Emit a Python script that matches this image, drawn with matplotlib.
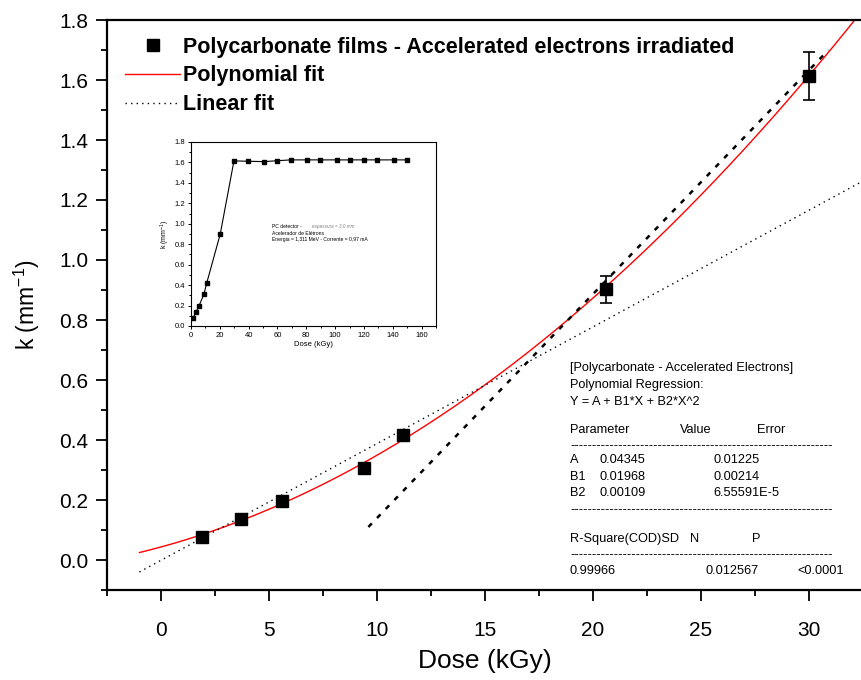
import numpy as np
import matplotlib
matplotlib.use("Agg")
import matplotlib.pyplot as plt
from matplotlib.ticker import MultipleLocator, FormatStrFormatter
from matplotlib.lines import Line2D

plt.rcParams['font.family'] = ['Liberation Sans', 'DejaVu Sans']
plt.rcParams['mathtext.fontset'] = 'custom'
plt.rcParams['mathtext.rm'] = 'Liberation Sans'
plt.rcParams['mathtext.default'] = 'regular'

# measured data (main plot)
dose = [1.9, 3.7, 5.6, 9.4, 11.2, 20.6, 30.0]
k_val = [0.077, 0.138, 0.197, 0.307, 0.417, 0.903, 1.615]
k_err = [0.0, 0.0, 0.0, 0.0, 0.0, 0.045, 0.08]

# polynomial fit parameters (from the results box)
A, B1, B2 = 0.04345, 0.01968, 0.00109
# linear fit
lin_slope, lin_icpt = 0.0389, -0.001
# black dashed line end points
dash_x = [9.6, 30.9]
dash_y = [0.11, 1.70]

# inset data
in_dose = [1.4, 3.5, 5.5, 9.0, 10.9, 20.3, 29.8, 39.3, 50.6, 60.0, 69.3, 80.4,
           89.8, 101.1, 110.6, 119.8, 129.3, 140.8, 150.1]
in_k = [0.078, 0.137, 0.195, 0.313, 0.42, 0.90, 1.615, 1.612, 1.608, 1.617, 1.625,
        1.625, 1.625, 1.625, 1.625, 1.625, 1.625, 1.625, 1.625]

fig = plt.figure(figsize=(8.61, 6.8), dpi=100)
ax = fig.add_axes([107/861, 90/680, 756/861, 570/680])

xf = np.linspace(-1, 32.5, 300)
l_poly, = ax.plot(xf, A + B1*xf + B2*xf**2, color='red', lw=1.0)
l_lin, = ax.plot(xf, lin_icpt + lin_slope*xf, color='black', lw=1.0, ls=(0, (1, 3)))
ax.plot(dash_x, dash_y, color='black', lw=1.8, ls=(0, (2, 3)))
ax.errorbar(dose, k_val, yerr=k_err, fmt='s', color='black', ms=8, capsize=4,
            elinewidth=1.2, capthick=1.2, zorder=5)
pts = Line2D([], [], ls='none', marker='s', color='black', ms=8)

ax.set_xlim(-2.5, 32.5)
ax.set_ylim(-0.1, 1.8)
ax.xaxis.set_major_locator(MultipleLocator(5))
ax.xaxis.set_minor_locator(MultipleLocator(2.5))
ax.yaxis.set_major_locator(MultipleLocator(0.2))
ax.yaxis.set_minor_locator(MultipleLocator(0.1))
ax.yaxis.set_major_formatter(FormatStrFormatter('%.1f'))
ax.tick_params(which='major', direction='out', length=8, width=1.3, labelsize=15)
ax.tick_params(which='minor', direction='out', length=4.5, width=1.3)
ax.tick_params(axis='x', pad=14)
ax.tick_params(axis='y', pad=5.5)
for s in ax.spines.values():
    s.set_linewidth(1.6)
ax.set_xlabel('Dose (kGy)', fontsize=19, labelpad=7)
ax.set_ylabel('k (mm$^{-1}$)', fontsize=16.5, labelpad=12)

ax.legend([pts, l_poly, l_lin],
          ['Polycarbonate films - Accelerated electrons irradiated', 'Polynomial fit', 'Linear fit'],
          loc='upper left', bbox_to_anchor=(0.024, 0.971), frameon=False, borderpad=0,
          borderaxespad=0, handlelength=2.55, handletextpad=0.15, labelspacing=0.37,
          prop={'weight': 'bold', 'size': 15.5})

# results box
fs = 9.2
def put(xp, yp, s):
    fig.text(xp/861, 1 - yp/680, s, fontsize=fs, va='center', ha='left')

put(570, 368, '[Polycarbonate - Accelerated Electrons]')
put(570, 385, 'Polynomial Regression:')
put(570, 402, 'Y = A + B1*X + B2*X^2')
put(570, 430, 'Parameter')
put(680, 430, 'Value')
put(757, 430, 'Error')
put(570, 446, '-' * 60)
put(570, 460, 'A')
put(600, 460, '0.04345')
put(713, 460, '0.01225')
put(570, 477, 'B1')
put(600, 477, '0.01968')
put(713, 477, '0.00214')
put(570, 493, 'B2')
put(600, 493, '0.00109')
put(713, 493, '6.55591E-5')
put(570, 510, '-' * 60)
put(570, 539, 'R-Square(COD)SD')
put(690, 539, 'N')
put(752, 539, 'P')
put(570, 555, '-' * 60)
put(570, 571, '0.99966')
put(706, 571, '0.012567')
put(797, 571, '<0.0001')

# inset
ins = fig.add_axes([191/861, (680-326)/680, 245/861, 184/680])
ins.plot(in_dose, in_k, color='black', lw=0.8, marker='s', ms=3.2)
ins.set_xlim(0, 170)
ins.set_ylim(0, 1.8)
ins.xaxis.set_major_locator(MultipleLocator(20))
ins.xaxis.set_minor_locator(MultipleLocator(10))
ins.yaxis.set_major_locator(MultipleLocator(0.2))
ins.yaxis.set_minor_locator(MultipleLocator(0.1))
ins.yaxis.set_major_formatter(FormatStrFormatter('%.1f'))
ins.tick_params(which='major', direction='out', length=2.5, width=0.7, labelsize=5.5, pad=1.5)
ins.tick_params(which='minor', direction='out', length=1.5, width=0.7)
for s in ins.spines.values():
    s.set_linewidth(0.8)
ins.set_xlabel('Dose (kGy)', fontsize=5.5, labelpad=2)
ins.set_ylabel('k (mm$^{-1}$)', fontsize=5, labelpad=2)
ins.text(0.33, 0.53, 'PC detector - ', fontsize=3.6, transform=ins.transAxes)
ins.text(0.495, 0.53, 'espessura = 3,0 mm', fontsize=3.3, style='italic', color='gray',
         transform=ins.transAxes)
ins.text(0.33, 0.495, 'Acelerador de Elétrons', fontsize=3.6, transform=ins.transAxes)
ins.text(0.33, 0.46, 'Energia = 1,311 MeV - Corrente = 0,97 mA', fontsize=3.6,
         transform=ins.transAxes)

fig.savefig('out.png', dpi=100)
